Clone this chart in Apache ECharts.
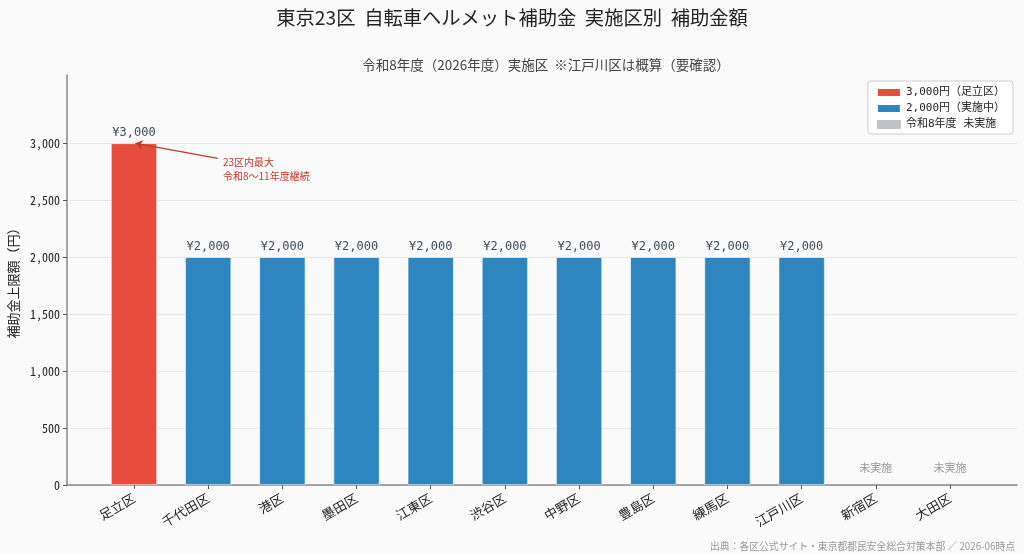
<!DOCTYPE html>
<html>
<head>
<meta charset="utf-8">
<script src="https://cdn.jsdelivr.net/npm/echarts@6/dist/echarts.min.js"></script>
<style>
  html, body { margin: 0; padding: 0; background: #fafafa; }
  #main { width: 1024px; height: 554px; }
</style>
</head>
<body>
<div id="main"></div>
<script>
// 区ごとの補助金上限額
var wards = ['足立区', '千代田区', '港区', '墨田区', '江東区', '渋谷区', '中野区', '豊島区', '練馬区', '江戸川区', '新宿区', '大田区'];
var amounts = [3000, 2000, 2000, 2000, 2000, 2000, 2000, 2000, 2000, 2000, 0, 0];
// 0:最大(足立区) 1:実施中 2:未実施
var wardStatus = [0, 1, 1, 1, 1, 1, 1, 1, 1, 1, 2, 2];
var legendNames = ['3,000円（足立区）', '2,000円（実施中）', '令和8年度 未実施'];
var colors = ['#e74c3c', '#2e86c1', '#bdc3c7'];
var yTicks = [0, 500, 1000, 1500, 2000, 2500, 3000];

var monoFont = "'DejaVu Sans Mono', 'Noto Sans CJK JP', monospace";
var tickFont = "'Noto Sans Mono CJK JP', 'DejaVu Sans Mono', monospace";
var cjkFont = "'Noto Sans CJK JP', sans-serif";

var chart = echarts.init(document.getElementById('main'));

function seriesData(k) {
  var d = [];
  for (var i = 0; i < wards.length; i++) {
    if (wardStatus[i] === k) d.push([i, amounts[i]]);
  }
  return d;
}

var series = [];
for (var k = 0; k < 3; k++) {
  series.push({
    name: legendNames[k],
    type: 'bar',
    barWidth: 46,
    barGap: '-100%',
    itemStyle: { color: colors[k], borderColor: '#ffffff', borderWidth: k === 2 ? 0 : 0.6 },
    label: {
      show: true,
      position: 'top',
      distance: k === 2 ? 12 : 4,
      fontFamily: k === 2 ? cjkFont : monoFont,
      fontSize: k === 2 ? 11 : 12,
      color: k === 2 ? '#999999' : '#3d4b5c',
      formatter: k === 2 ? '未実施' : function (p) {
        return '¥' + p.value[1].toLocaleString('en-US');
      }
    },
    data: seriesData(k)
  });
}

// 注記（足立区）
series[0].markLine = {
  silent: true,
  symbol: ['none', 'arrow'],
  symbolSize: 7,
  lineStyle: { color: '#c0392b', width: 1.2, type: 'solid' },
  label: { show: false },
  data: [[{ coord: [1.13, 2868] }, { coord: [0.02, 3000] }]]
};
series[0].markPoint = {
  silent: true,
  symbol: 'circle',
  symbolSize: 0,
  label: {
    show: true,
    position: 'right',
    distance: 0,
    color: '#c0392b',
    fontFamily: cjkFont,
    fontSize: 10,
    lineHeight: 14,
    align: 'left',
    formatter: '23区内最大\n令和8～11年度継続'
  },
  data: [{ coord: [1.2, 2775] }]
};

var option = {
  backgroundColor: '#fafafa',
  animation: false,
  title: [{
    text: '東京23区  自転車ヘルメット補助金  実施区別  補助金額',
    left: 'center',
    top: 3,
    textStyle: { fontFamily: cjkFont, fontSize: 19.3, fontWeight: 'normal', color: '#222222' }
  }, {
    text: '令和8年度（2026年度）実施区  ※江戸川区は概算（要確認）',
    left: 541,
    textAlign: 'center',
    top: 53,
    textStyle: { fontFamily: cjkFont, fontSize: 13.5, fontWeight: 'normal', color: '#444444' }
  }, {
    text: '出典：各区公式サイト・東京都都民安全総合対策本部 ／ 2026-06時点',
    right: 4,
    top: 536,
    textStyle: { fontFamily: cjkFont, fontSize: 9.8, fontWeight: 'normal', color: '#999999' }
  }],
  legend: {
    right: 11,
    top: 81,
    orient: 'vertical',
    icon: 'rect',
    itemWidth: 24,
    itemHeight: 9,
    itemGap: 5,
    padding: [6, 8, 4, 8],
    backgroundColor: '#ffffff',
    borderColor: '#cccccc',
    borderWidth: 1,
    borderRadius: 3,
    textStyle: { fontFamily: monoFont, fontSize: 11, color: '#222222' },
    data: legendNames
  },
  grid: { left: 67, right: 7, top: 75, bottom: 69, containLabel: false, outerBoundsMode: 'none' },
  xAxis: {
    type: 'value',
    min: -0.903,
    max: 11.903,
    splitLine: { show: false },
    axisLine: { show: true, onZero: false, lineStyle: { color: '#888888', width: 1.5 } },
    axisTick: { show: true, length: 4, lineStyle: { color: '#555555' }, customValues: wards.map(function (w, i) { return i; }) },
    axisLabel: {
      customValues: wards.map(function (w, i) { return i; }),
      rotate: 30,
      margin: 12,
      fontFamily: cjkFont,
      fontSize: 13,
      color: '#222222',
      formatter: function (v) { return wards[Math.round(v)] || ''; }
    }
  },
  yAxis: {
    type: 'value',
    min: 0,
    max: 3600,
    name: '補助金上限額（円）',
    nameLocation: 'middle',
    nameGap: 45,
    nameTextStyle: { fontFamily: cjkFont, fontSize: 13, color: '#222222' },
    axisLine: { show: true, onZero: false, lineStyle: { color: '#888888', width: 1.5 } },
    axisTick: { show: true, length: 4, lineStyle: { color: '#555555' }, customValues: yTicks },
    axisLabel: {
      customValues: yTicks,
      margin: 7,
      fontFamily: tickFont,
      fontSize: 12,
      color: '#222222',
      formatter: function (v) { return v.toLocaleString('en-US'); }
    },
    splitLine: { show: true, lineStyle: { color: '#e6e6e6', width: 1 } }
  },
  series: series
};

chart.setOption(option);
</script>
</body>
</html>
